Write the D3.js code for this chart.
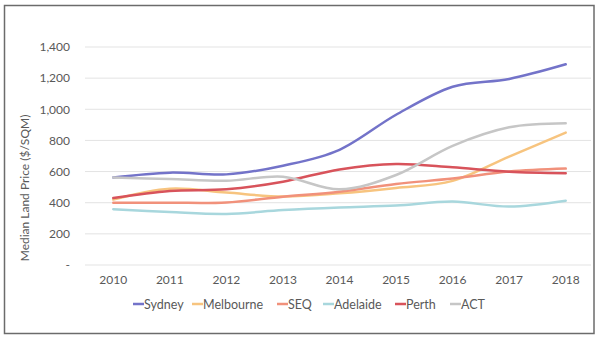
<!DOCTYPE html>
<html>
<head>
<meta charset="utf-8">
<script src="https://cdn.jsdelivr.net/npm/d3@7"></script>
<style>
html,body{margin:0;padding:0;background:#fff;}
svg{display:block;font-family:Lato,"Open Sans",sans-serif;}
</style>
</head>
<body>
<svg id="chart" width="599" height="340"></svg>
<script>
const years = ["2010","2011","2012","2013","2014","2015","2016","2017","2018"];
const yTicks = [0,200,400,600,800,1000,1200,1400];
const seriesNames = ["Sydney","Melbourne","SEQ","Adelaide","Perth","ACT"];
const seriesColors = ["#7373c9","#f7c47f","#f1917b","#a8d7dd","#d8535b","#c6c6c6"];
const sydney    = [562, 593, 582, 638, 740, 965, 1145, 1195, 1289];
const melbourne = [420, 490, 465, 440, 460, 495, 540, 696, 850];
const seq       = [400, 400, 402, 439, 471, 520, 555, 600, 619];
const adelaide  = [358, 340, 328, 353, 370, 382, 407, 375, 413];
const perth     = [430, 476, 486, 535, 614, 649, 627, 599, 590];
const act       = [562, 552, 541, 567, 486, 578, 765, 884, 910];
const seriesValues = [sydney, melbourne, seq, adelaide, perth, act];

const svg = d3.select("#chart");

// outer frame
svg.append("rect").attr("x",4.5).attr("y",5.5).attr("width",589.5).attr("height",328)
  .attr("fill","#fff").attr("stroke","#6b6b6b").attr("stroke-width",1.5);

const x = d3.scaleBand().domain(years).range([85,594]).padding(0);
const y = d3.scaleLinear().domain([0,1400]).range([265,47]);

// gridlines
svg.append("g").selectAll("line").data(yTicks).join("line")
  .attr("x1",85).attr("x2",591)
  .attr("y1",d=>y(d)).attr("y2",d=>y(d))
  .attr("stroke","#e3e3e3").attr("stroke-width",1);

// y axis labels
const fmt = d3.format(",");
const yAxis = d3.axisLeft(y).tickValues(yTicks).tickSize(0).tickPadding(0)
  .tickFormat(d=> d===0 ? "-" : fmt(d));
const gy = svg.append("g").attr("transform","translate(70,0)").call(yAxis);
gy.select(".domain").remove();
gy.selectAll("text").attr("fill","#595959").style("font-size","12px").style("font-family","Lato,'Open Sans',sans-serif");

// x axis labels
const xAxis = d3.axisBottom(x).tickSize(0).tickPadding(0);
const gx = svg.append("g").attr("transform","translate(0,275)").call(xAxis);
gx.select(".domain").remove();
gx.selectAll("text").attr("fill","#595959").style("font-size","12px").style("font-family","Lato,'Open Sans',sans-serif");

// y title
svg.append("text")
  .attr("transform","translate(29,188) rotate(-90)")
  .attr("text-anchor","middle")
  .attr("fill","#595959")
  .style("font-size","12px")
  .text("Median Land Price ($/SQM)");

// lines
const line = d3.line()
  .x((d,i)=>x(years[i]) + x.bandwidth()/2)
  .y(d=>y(d))
  .curve(d3.curveCatmullRom.alpha(0));

const order = [0,1,2,3,4,5];
svg.append("g").selectAll("path").data(order).join("path")
  .attr("d",i=>line(seriesValues[i]))
  .attr("fill","none")
  .attr("stroke",i=>seriesColors[i])
  .attr("stroke-width",2.5)
  .attr("stroke-linecap","round");

// legend
const legendX = [133,192,277,323,395,450];
const lg = svg.append("g").selectAll("g").data(seriesNames).join("g")
  .attr("transform",(d,i)=>`translate(${legendX[i]},304)`);
lg.append("line").attr("x1",0).attr("x2",11).attr("y1",0).attr("y2",0)
  .attr("stroke",(d,i)=>seriesColors[i]).attr("stroke-width",2.5);
lg.append("text").attr("x",11).attr("y",4.5)
  .attr("fill","#595959").style("font-size","12.5px").text(d=>d);
</script>
</body>
</html>
